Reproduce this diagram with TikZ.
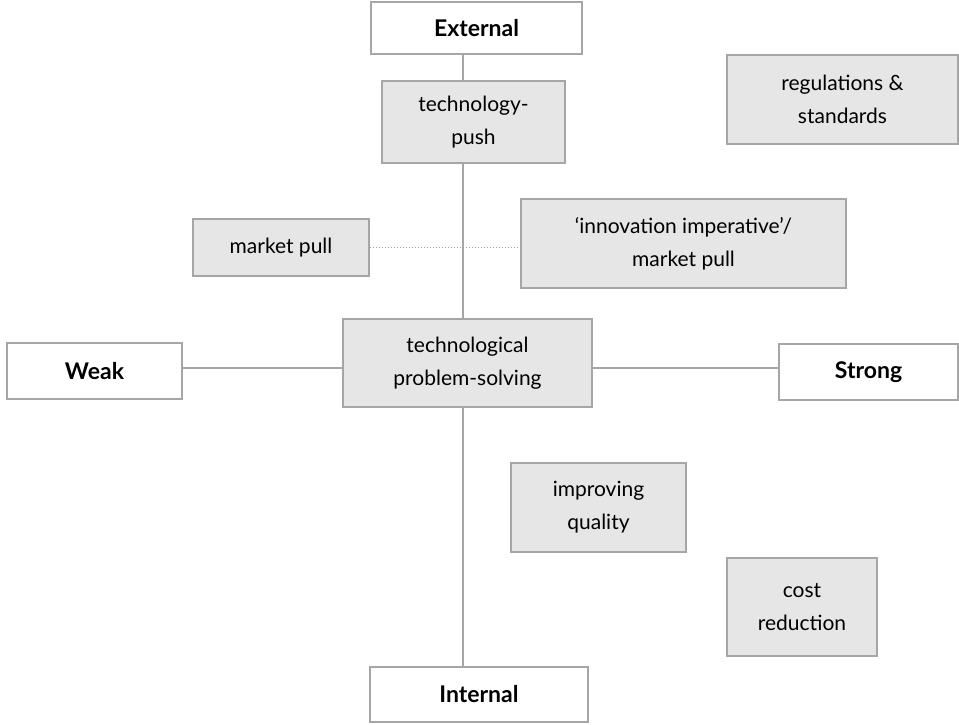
\documentclass[tikz,border=0pt]{standalone}
\usepackage{fontspec}
\setmainfont{Lato}
\usetikzlibrary{calc}
\definecolor{boxfill}{HTML}{E6E6E6}
\definecolor{boxline}{HTML}{A6A6A6}
\definecolor{dotline}{HTML}{A0A0A0}
\tikzset{
  factor/.style={draw=boxline, fill=boxfill, line width=1.6pt, align=center,
    inner sep=0pt, font=\fontsize{21}{33}\selectfont},
  pole/.style={draw=boxline, fill=white, line width=1.6pt, align=center,
    inner sep=0pt, font=\fontsize{23}{33}\selectfont\bfseries},
  axisline/.style={draw=boxline, line width=1.6pt},
  linkline/.style={draw=dotline, line width=1pt, dotted},
}

\begin{document}
\begin{tikzpicture}[x=1pt, y=-1pt]

\useasboundingbox (0,0) rectangle (959,724);

% the two axes end in white boxes
\node[pole, minimum width=211pt, minimum height=52pt] (ext) at (476.5,28) {External};
\node[pole, minimum width=218pt, minimum height=55pt] (int) at (479,694.5) {Internal};
\node[pole, minimum width=175pt, minimum height=56pt] (weak) at (94.5,371) {Weak};
\node[pole, minimum width=179pt, minimum height=56pt] (strong) at (868.5,372) {Strong};

% grey factor boxes
\node[factor, minimum width=183pt, minimum height=82pt] (push) at (473.5,122) {technology-\\push};
\node[factor, minimum width=231pt, minimum height=89pt] (regs) at (842.5,99.5) {regulations \&\\standards};
\node[factor, minimum width=176pt, minimum height=57pt] (mp) at (281,247.5) {market pull};
\node[factor, minimum width=325pt, minimum height=89pt] (inno) at (683.5,243.5) {‘innovation imperative’/\\market pull};
\node[factor, minimum width=249pt, minimum height=88pt] (tps) at (467.5,363) {technological\\problem-solving};
\node[factor, minimum width=175pt, minimum height=89pt] (impr) at (598.5,507.5) {improving\\quality};
\node[factor, minimum width=150pt, minimum height=98pt] (cost) at (802,607) {cost\\reduction};

% crossing point of the axes
\coordinate (cross) at (463,368);

% vertical axis, box to box
\draw[axisline] (ext.south -| cross) -- (push.north -| cross);
\draw[axisline] (push.south -| cross) -- (tps.north -| cross);
\draw[axisline] (tps.south -| cross) -- (int.north -| cross);

% horizontal axis
\draw[axisline] (weak.east |- cross) -- (tps.west |- cross);
\draw[axisline] (tps.east |- cross) -- (strong.west |- cross);

% dotted link between the two market-pull boxes
\draw[linkline] (mp.east) -- (mp.east -| inno.west);

\end{tikzpicture}
\end{document}
